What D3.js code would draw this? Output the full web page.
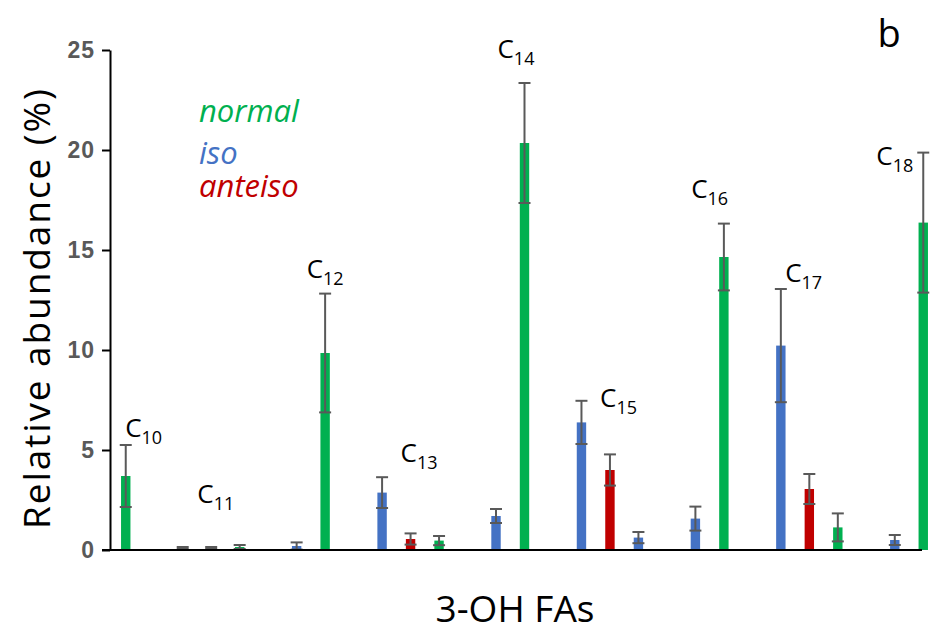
<!DOCTYPE html>
<html>
<head>
<meta charset="utf-8">
<script src="https://cdn.jsdelivr.net/npm/d3@7"></script>
<style>
  body { margin: 0; background: #fff; }
  .tick text { font-family: "Liberation Sans", Arial, sans-serif; font-weight: bold; font-size: 23px; letter-spacing: 1px; fill: #595959; }
  .lbl { font-family: "Open Sans", sans-serif; fill: #000; }
</style>
</head>
<body>
<svg class="canvas"></svg>
<script>
// one slot per bar position, gaps between chain lengths
var slots = ["C10n", "g1", "C11i", "C11a", "C11n", "g2", "C12i", "C12n", "g3",
             "C13i", "C13a", "C13n", "g4", "C14i", "C14n", "g5", "C15i", "C15a", "C15n", "g6",
             "C16i", "C16n", "g7", "C17i", "C17a", "C17n", "g8", "C18i", "C18n"];
var kinds = ["normal", null, "iso", "anteiso", "normal", null, "iso", "normal", null,
             "iso", "anteiso", "normal", null, "iso", "normal", null, "iso", "anteiso", "iso", null,
             "iso", "normal", null, "iso", "anteiso", "normal", null, "iso", "normal"];
var values = [3.7, null, 0.1, 0.1, 0.15, null, 0.2, 9.85, null,
              2.87, 0.55, 0.47, null, 1.7, 20.35, null, 6.38, 4.0, 0.62, null,
              1.57, 14.65, null, 10.22, 3.05, 1.13, null, 0.5, 16.37];
var errors = [1.55, null, 0.05, 0.05, 0.1, null, 0.18, 2.97, null,
              0.77, 0.28, 0.23, null, 0.35, 3.0, null, 1.08, 0.78, 0.28, null,
              0.6, 1.67, null, 2.83, 0.75, 0.7, null, 0.25, 3.5];

// chain length labels: subscript, anchor slot position, y value
var labelNums = ["10", "11", "12", "13", "14", "15", "16", "17", "18"];
var labelSlot = [0.63, 3.16, 7.0, 10.3, 13.7, 17.3, 20.5, 23.8, 27.0];
var labelY = [5.65, 2.35, 13.6, 4.4, 24.6, 7.15, 17.6, 13.4, 19.25];

var yTicks = [0, 5, 10, 15, 20, 25];
var legendNames = ["normal", "iso", "anteiso"];

var colors = { normal: "#00B050", iso: "#4472C4", anteiso: "#C00000" };

var width = 937, height = 642;
var svg = d3.select(".canvas").attr("width", width).attr("height", height);

var x = d3.scaleBand().domain(slots).range([111.5, 937.5]).paddingInner(0.67).paddingOuter(0.335);
var y = d3.scaleLinear().domain([0, 25]).range([550, 50]);
var xc = function(i) { return x(slots[0]) + x.bandwidth() / 2 + i * x.step(); };

var data = slots.map(function(s, i) {
  return { key: s, kind: kinds[i], v: values[i], e: errors[i] };
}).filter(function(d) { return d.kind; });

// bars
svg.selectAll("rect.bar")
  .data(data)
  .enter()
  .append("rect")
  .attr("class", "bar")
  .attr("x", function(d) { return x(d.key); })
  .attr("width", x.bandwidth())
  .attr("y", function(d) { return y(d.v); })
  .attr("height", function(d) { return y(0) - y(d.v); })
  .attr("fill", function(d) { return colors[d.kind]; });

// error bars
var eb = svg.append("g").attr("stroke", "#595959").attr("stroke-width", 2);
data.forEach(function(d) {
  var cx = x(d.key) + x.bandwidth() / 2;
  var top = y(d.v + d.e), bot = y(Math.max(0, d.v - d.e));
  eb.append("line").attr("x1", cx).attr("x2", cx).attr("y1", top).attr("y2", bot);
  eb.append("line").attr("x1", cx - 6).attr("x2", cx + 6).attr("y1", top).attr("y2", top);
  eb.append("line").attr("x1", cx - 6).attr("x2", cx + 6).attr("y1", bot).attr("y2", bot);
});

// y axis
var yAxis = d3.axisLeft(y).tickValues(yTicks).tickSize(8).tickPadding(7).tickSizeOuter(0);
var ga = svg.append("g").attr("transform", "translate(110,0)").call(yAxis);
ga.selectAll("path, line").attr("stroke", "#000").attr("stroke-width", 2);

// x axis line
svg.append("line")
  .attr("x1", 102).attr("x2", 922)
  .attr("y1", y(0)).attr("y2", y(0))
  .attr("stroke", "#000").attr("stroke-width", 2);

// chain length labels
labelNums.forEach(function(n, i) {
  var t = svg.append("text").attr("class", "lbl")
    .attr("x", xc(labelSlot[i])).attr("y", y(labelY[i]))
    .attr("text-anchor", "middle").style("font-size", "26px");
  t.append("tspan").text("C");
  t.append("tspan").attr("dy", 7).style("font-size", "18px").text(n);
});

// legend
legendNames.forEach(function(n, i) {
  svg.append("text").attr("class", "lbl")
    .attr("x", 199).attr("y", [122, 164, 197][i])
    .style("font-style", "italic").style("font-size", "31px")
    .style("fill", colors[n])
    .text(n);
});

// axis titles
svg.append("text").attr("class", "lbl")
  .attr("transform", "translate(50,309) rotate(-90)")
  .attr("text-anchor", "middle").style("font-size", "37px")
  .attr("textLength", 440)
  .text("Relative abundance (%)");

svg.append("text").attr("class", "lbl")
  .attr("x", 515).attr("y", 622)
  .attr("text-anchor", "middle").style("font-size", "37px")
  .text("3-OH FAs");

svg.append("text").attr("class", "lbl")
  .attr("x", 889).attr("y", 47)
  .attr("text-anchor", "middle").style("font-size", "38px")
  .text("b");
</script>
</body>
</html>
